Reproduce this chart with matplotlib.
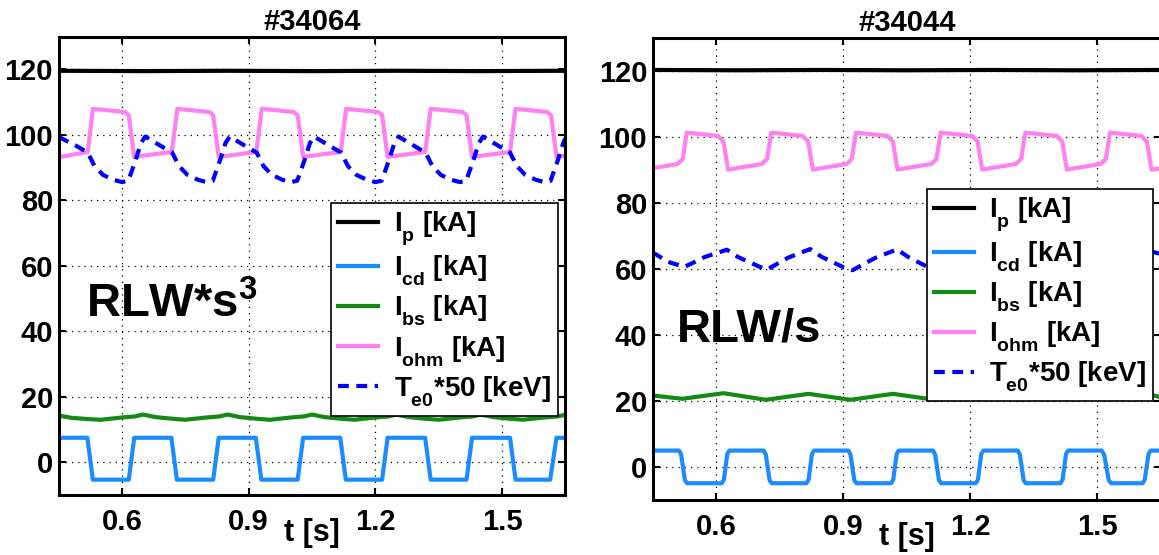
import matplotlib
matplotlib.use("Agg")
from matplotlib import pyplot as plt
from matplotlib import font_manager
import matplotlib._mathtext as mt

# pick a narrow helvetica-like face if there is one
names = {f.name for f in font_manager.fontManager.ttflist}
fam = 'Liberation Sans Narrow' if 'Liberation Sans Narrow' in names else 'Liberation Sans'

plt.rcParams['font.family'] = [fam, 'DejaVu Sans']
plt.rcParams['font.weight'] = 'bold'
plt.rcParams['mathtext.fontset'] = 'custom'
plt.rcParams['mathtext.rm'] = fam + ':bold'
plt.rcParams['mathtext.it'] = fam + ':bold'
plt.rcParams['mathtext.bf'] = fam + ':bold'
# matlab puts subscripts lower than mathtext does
mt.FontConstantsBase.sub1 = 0.7

# ---------------- #34064 (left) ----------------
ip_t_a = [0.45, 0.65, 0.85, 1.05, 1.25, 1.45, 1.65]
ip_a = [119.6, 119.5, 119.6, 119.5, 119.6, 119.5, 119.6]

icd_t_a = [0.45, 0.518, 0.531, 0.616, 0.629, 0.717, 0.730, 0.816, 0.829, 0.917, 0.930,
           1.016, 1.029, 1.117, 1.130, 1.216, 1.229, 1.318, 1.331, 1.416, 1.429,
           1.519, 1.532, 1.614, 1.629, 1.65]
icd_a = [7.5, 7.5, -5.3, -5.3, 7.5, 7.5, -5.3, -5.3, 7.5, 7.5, -5.3,
         -5.3, 7.5, 7.5, -5.3, -5.3, 7.5, 7.5, -5.3, -5.3, 7.5,
         7.5, -5.3, -5.3, 7.5, 7.5]

ibs_t_a = [0.45, 0.48, 0.52, 0.55, 0.60, 0.63, 0.65, 0.68, 0.72, 0.75, 0.80, 0.83, 0.85,
           0.88, 0.92, 0.95, 1.00, 1.03, 1.05, 1.08, 1.12, 1.15, 1.20, 1.23, 1.25,
           1.28, 1.32, 1.35, 1.40, 1.43, 1.45, 1.48, 1.52, 1.55, 1.60, 1.63, 1.65]
ibs_a = [14.3, 13.6, 13.2, 13.0, 13.7, 14.0, 14.6, 13.8, 13.3, 13.0, 13.7, 14.0, 14.6,
         13.8, 13.3, 13.0, 13.7, 14.0, 14.6, 13.8, 13.3, 13.0, 13.7, 14.0, 14.6,
         13.8, 13.3, 13.0, 13.7, 14.0, 14.6, 13.8, 13.3, 13.0, 13.7, 14.0, 14.5]

ioh_t_a = [0.45, 0.519, 0.531, 0.607, 0.616, 0.629, 0.718, 0.731, 0.807, 0.816, 0.829,
           0.918, 0.931, 1.007, 1.016, 1.029, 1.118, 1.131, 1.207, 1.216, 1.229,
           1.318, 1.331, 1.407, 1.416, 1.429, 1.519, 1.532, 1.607, 1.616, 1.629, 1.65]
ioh_a = [93.2, 94.8, 108.0, 107.0, 106.0, 93.3, 94.8, 108.0, 107.0, 106.0, 93.3,
         94.8, 108.0, 107.0, 106.0, 93.3, 94.8, 108.0, 107.0, 106.0, 93.3,
         94.8, 108.0, 107.0, 106.0, 93.3, 94.8, 108.0, 107.0, 106.0, 93.3, 93.6]

te_t_a = [0.45, 0.49, 0.519, 0.535, 0.555, 0.58, 0.60, 0.615, 0.632, 0.645, 0.655,
          0.69, 0.719, 0.735, 0.755, 0.78, 0.80, 0.815, 0.832, 0.845, 0.855,
          0.89, 0.919, 0.935, 0.955, 0.98, 1.00, 1.015, 1.032, 1.045, 1.055,
          1.09, 1.119, 1.135, 1.155, 1.18, 1.20, 1.215, 1.232, 1.245, 1.255,
          1.29, 1.319, 1.335, 1.355, 1.38, 1.40, 1.415, 1.432, 1.445, 1.455,
          1.49, 1.519, 1.535, 1.555, 1.58, 1.60, 1.615, 1.632, 1.645, 1.65]
te_a = [99.4, 96.8, 94.6, 90.5, 87.8, 86.3, 85.6, 86.0, 92.2, 97.5, 99.5,
        96.8, 94.6, 90.5, 87.8, 86.3, 85.6, 86.0, 92.2, 97.5, 99.5,
        96.8, 94.6, 90.5, 87.8, 86.3, 85.6, 86.0, 92.2, 97.5, 99.5,
        96.8, 94.6, 90.5, 87.8, 86.3, 85.6, 86.0, 92.2, 97.5, 99.5,
        96.8, 94.6, 90.5, 87.8, 86.3, 85.6, 86.0, 92.2, 97.5, 99.5,
        96.8, 94.6, 90.5, 87.8, 86.3, 85.6, 86.0, 92.2, 97.5, 99.0]

# ---------------- #34044 (right) ----------------
ip_t_b = [0.45, 0.65, 0.85, 1.05, 1.25, 1.45, 1.65]
ip_b = [120.4, 120.3, 120.4, 120.3, 120.4, 120.3, 120.4]

icd_t_b = [0.45, 0.512, 0.517, 0.526, 0.531, 0.613, 0.618, 0.626, 0.631,
           0.712, 0.717, 0.726, 0.731, 0.813, 0.818, 0.826, 0.831,
           0.912, 0.917, 0.926, 0.931, 1.013, 1.018, 1.026, 1.031,
           1.112, 1.117, 1.126, 1.131, 1.213, 1.218, 1.226, 1.231,
           1.312, 1.317, 1.326, 1.331, 1.413, 1.418, 1.426, 1.431,
           1.510, 1.516, 1.527, 1.533, 1.607, 1.612, 1.621, 1.626, 1.65]
icd_b = [5.0, 5.0, 3.8, -4.0, -4.9, -4.9, -3.8, 4.0, 5.0,
         5.0, 3.8, -4.0, -4.9, -4.9, -3.8, 4.0, 5.0,
         5.0, 3.8, -4.0, -4.9, -4.9, -3.8, 4.0, 5.0,
         5.0, 3.8, -4.0, -4.9, -4.9, -3.8, 4.0, 5.0,
         5.0, 3.8, -4.0, -4.9, -4.9, -3.8, 4.0, 5.0,
         5.0, 3.8, -4.0, -4.9, -4.9, -3.8, 4.0, 5.0, 5.0]

ibs_t_b = [0.45, 0.52, 0.617, 0.717, 0.818, 0.917, 1.017, 1.117, 1.217,
           1.317, 1.417, 1.517, 1.617, 1.65]
ibs_b = [21.7, 20.7, 22.4, 20.4, 22.2, 20.4, 22.2, 20.4, 22.2,
         20.4, 22.2, 20.4, 22.2, 21.2]

ioh_t_b = [0.45, 0.508, 0.521, 0.530, 0.604, 0.617, 0.628,
           0.708, 0.720, 0.730, 0.804, 0.817, 0.828,
           0.908, 0.920, 0.930, 1.004, 1.017, 1.028,
           1.108, 1.120, 1.130, 1.204, 1.217, 1.228,
           1.308, 1.320, 1.330, 1.404, 1.417, 1.428,
           1.508, 1.520, 1.530, 1.604, 1.617, 1.628, 1.65]
ioh_b = [90.6, 91.9, 93.4, 101.4, 100.4, 98.7, 90.2,
         91.9, 93.4, 101.4, 100.4, 98.7, 90.2,
         91.9, 93.4, 101.4, 100.4, 98.7, 90.2,
         91.9, 93.4, 101.4, 100.4, 98.7, 90.2,
         91.9, 93.4, 101.4, 100.4, 98.7, 90.2,
         91.9, 93.4, 101.4, 100.4, 98.7, 90.2, 90.5]

te_t_b = [0.45, 0.486, 0.525, 0.573, 0.625, 0.651, 0.703, 0.720, 0.770, 0.822,
          0.848, 0.900, 0.922, 0.975, 1.027, 1.052, 1.100, 1.120, 1.170, 1.225,
          1.250, 1.300, 1.320, 1.370, 1.425, 1.450, 1.500, 1.520, 1.570, 1.620, 1.65]
te_b = [65.1, 62.2, 60.7, 63.7, 65.9, 63.7, 60.7, 59.9, 63.5, 66.1,
        63.8, 60.6, 59.7, 63.4, 66.0, 63.8, 60.6, 60.0, 63.4, 66.0,
        63.8, 60.6, 60.0, 63.4, 66.0, 63.8, 60.6, 60.0, 63.4, 65.6, 64.6]

labels = [r'$I_{p}$ [kA]', r'$I_{cd}$ [kA]', r'$I_{bs}$ [kA]',
          r'$I_{ohm}$ [kA]', r'$T_{e0}$*50 [keV]']

fig = plt.figure(figsize=(11.59, 5.55), dpi=100)
ax1 = fig.add_axes([0.0506, 0.108, 0.4372, 0.8258])
ax2 = fig.add_axes([0.5632, 0.099, 0.4384, 0.832])


def draw(ax, series, title, tag, tag_xy, leg_y):
    ip_t, ip, icd_t, icd, ibs_t, ibs, ioh_t, ioh, te_t, te = series
    ax.plot(ip_t, ip, color='k', lw=3, label=labels[0])
    ax.plot(icd_t, icd, color='#1a8cff', lw=3, label=labels[1])
    ax.plot(ibs_t, ibs, color='#138a13', lw=3, label=labels[2])
    ax.plot(ioh_t, ioh, color='#ff80f0', lw=3, label=labels[3])
    ax.plot(te_t, te, color='#0000ff', lw=3, dashes=(2.6, 1.8), label=labels[4])

    ax.set_xlim(0.45, 1.65)
    ax.set_ylim(-10, 130)
    ax.set_xticks([0.6, 0.9, 1.2, 1.5])
    ax.set_yticks([0, 20, 40, 60, 80, 100, 120])
    ax.grid(True, color='k', linestyle=(0, (1, 4)), lw=0.9)
    ax.tick_params(direction='in', top=True, right=True, length=5, width=1.5,
                   labelsize=21)
    ax.tick_params(axis='x', pad=9)
    ax.tick_params(axis='y', pad=4)
    for s in ax.spines.values():
        s.set_linewidth(2.2)
    ax.set_title(title, fontsize=21, fontweight='bold', pad=5)
    ax.set_xlabel('t [s]', fontsize=22, fontweight='bold', labelpad=-13)
    ax.text(tag_xy[0], tag_xy[1], tag, fontsize=34, fontweight='bold',
            va='baseline', ha='left')
    leg = ax.legend(loc='upper right', bbox_to_anchor=(0.985, leg_y),
                    fontsize=20, frameon=True, fancybox=False, framealpha=1,
                    edgecolor='k', handlelength=1.45, handletextpad=0.55,
                    borderpad=0.25, labelspacing=0.2, borderaxespad=0)
    leg.get_frame().set_linewidth(1.2)


draw(ax1, (ip_t_a, ip_a, icd_t_a, icd_a, ibs_t_a, ibs_a, ioh_t_a, ioh_a, te_t_a, te_a),
     '#34064', r'RLW*s$^{3}$', (0.515, 44.3), 0.637)
draw(ax2, (ip_t_b, ip_b, icd_t_b, icd_b, ibs_t_b, ibs_b, ioh_t_b, ioh_b, te_t_b, te_b),
     '#34044', 'RLW/s', (0.508, 38.1), 0.674)

fig.savefig('out.png', dpi=100)
